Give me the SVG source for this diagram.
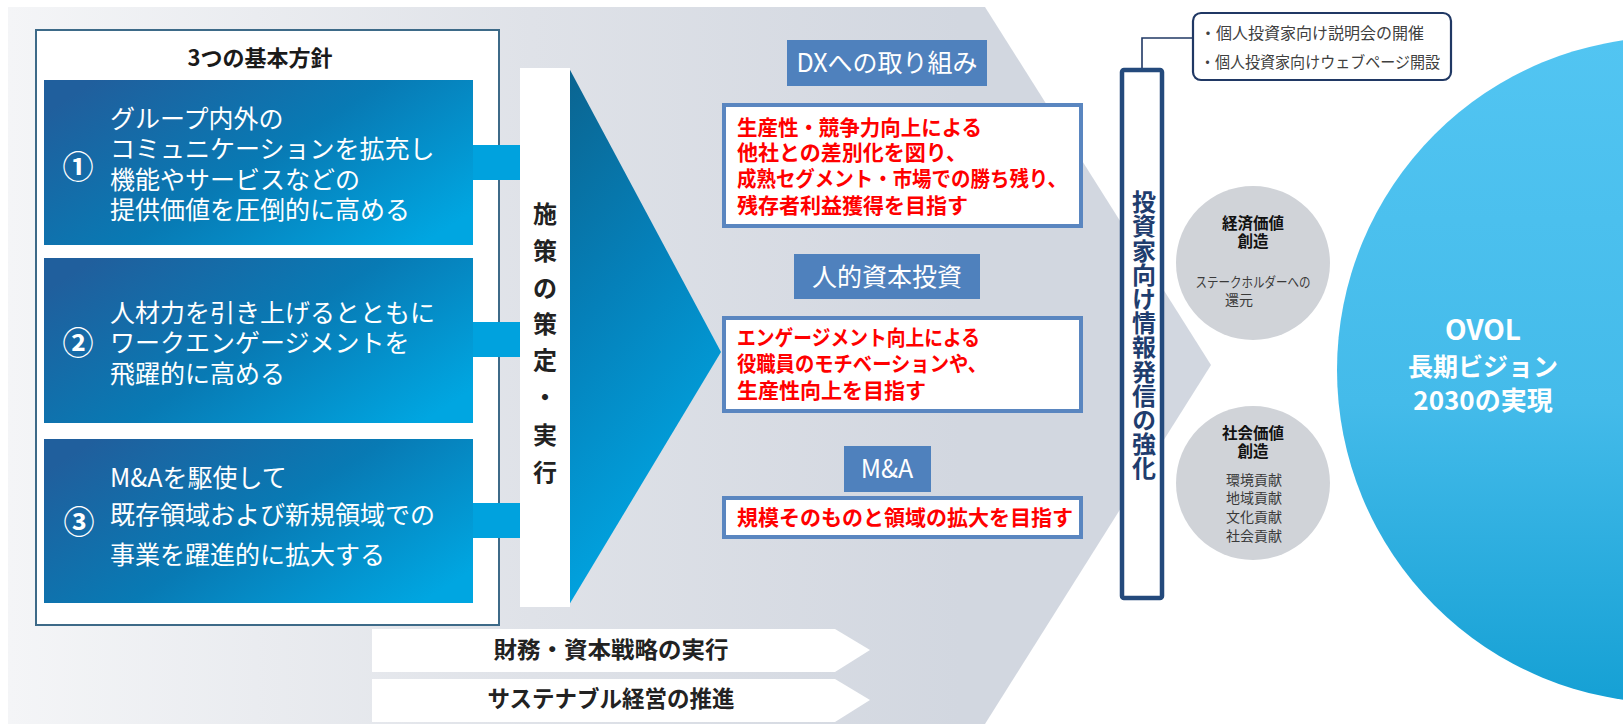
<svg xmlns="http://www.w3.org/2000/svg" width="1623" height="724" viewBox="0 0 1623 724">
<defs>
<linearGradient id="bgG" x1="8" y1="0" x2="960" y2="0" gradientUnits="userSpaceOnUse">
<stop offset="0" stop-color="#f4f5f7"/>
<stop offset="0.55" stop-color="#dfe2e8"/>
<stop offset="1" stop-color="#d2d7e0"/>
</linearGradient>
<linearGradient id="boxG" x1="0" y1="0.2" x2="1" y2="0.8">
<stop offset="0" stop-color="#205f9d"/>
<stop offset="0.5" stop-color="#087ab4"/>
<stop offset="1" stop-color="#00a6e1"/>
</linearGradient>
<linearGradient id="triG" x1="0" y1="0" x2="0.3" y2="1">
<stop offset="0" stop-color="#0b6490"/>
<stop offset="0.45" stop-color="#0580b9"/>
<stop offset="1" stop-color="#00a7e4"/>
</linearGradient>
<linearGradient id="bigG" x1="0" y1="0" x2="0" y2="1">
<stop offset="0" stop-color="#52c5f2"/>
<stop offset="0.55" stop-color="#44bbea"/>
<stop offset="1" stop-color="#15a0d4"/>
</linearGradient>
<style>
.jp{font-family:"Noto Sans CJK JP","Noto Sans",sans-serif}
.wt{fill:#ffffff;font-size:25px}
.num{fill:#ffffff;font-size:31px;font-weight:700}
.lbl{fill:#4f81bd}
.lbt{fill:#ffffff;font-size:25px;text-anchor:middle}
.rbox{fill:#ffffff;stroke:#5a86c0;stroke-width:4}
.red{fill:#ff0000;font-size:21px;font-weight:700}
.tab{fill:#00a2de}
.vt{font-size:24px;font-weight:700;text-anchor:middle}
.ct{font-size:14px;fill:#3a3a3a;text-anchor:middle}
.cb{font-size:15.5px;fill:#111111;font-weight:700;text-anchor:middle}
.bar{fill:#ffffff}
.bt{font-size:23px;font-weight:700;fill:#222222;text-anchor:middle}
.ov{fill:#ffffff;font-weight:700;text-anchor:middle}
</style>
</defs>
<rect x="0" y="0" width="1623" height="724" fill="#ffffff"/>
<polygon id="background" points="8,7 985,7 1211,365 985,724 8,724" fill="url(#bgG)"/>

<g id="big-circle">
<circle cx="1670" cy="370" r="333" fill="url(#bigG)"/>
<text class="jp ov" x="1483" y="340" font-size="28">OVOL</text>
<text class="jp ov" x="1483" y="376" font-size="25">長期ビジョン</text>
<text class="jp ov" x="1483" y="410" font-size="26">2030の実現</text>
</g>

<g id="policy-box">
<rect x="36" y="30" width="463" height="595" fill="#ffffff" stroke="#3d6a88" stroke-width="2"/>
<text class="jp" x="260" y="66" font-size="22" font-weight="700" fill="#1a1a1a" text-anchor="middle">3つの基本方針</text>
</g>

<g id="connectors">
<rect class="tab" x="472" y="145" width="48" height="35"/>
<rect class="tab" x="472" y="322" width="48" height="35"/>
<rect class="tab" x="472" y="503" width="48" height="35"/>
<path d="M1142,68 V38 H1193" fill="none" stroke="#203864" stroke-width="1.6"/>
</g>

<g id="policy-1">
<rect x="44" y="80" width="429" height="165" fill="url(#boxG)"/>
<text class="jp num" x="78" y="178" text-anchor="middle">①</text>
<text class="jp wt" x="110" y="128">グループ内外の</text>
<text class="jp wt" x="110" y="158">コミュニケーションを拡充し</text>
<text class="jp wt" x="110" y="189">機能やサービスなどの</text>
<text class="jp wt" x="110" y="219">提供価値を圧倒的に高める</text>
</g>

<g id="policy-2">
<rect x="44" y="258" width="429" height="165" fill="url(#boxG)"/>
<text class="jp num" x="78" y="354" text-anchor="middle">②</text>
<text class="jp wt" x="110" y="322">人材力を引き上げるとともに</text>
<text class="jp wt" x="110" y="352">ワークエンゲージメントを</text>
<text class="jp wt" x="110" y="383">飛躍的に高める</text>
</g>

<g id="policy-3">
<rect x="44" y="439" width="429" height="164" fill="url(#boxG)"/>
<text class="jp num" x="79" y="533" text-anchor="middle">③</text>
<text class="jp wt" x="110" y="487">M&amp;Aを駆使して</text>
<text class="jp wt" x="110" y="524">既存領域および新規領域での</text>
<text class="jp wt" x="110" y="564">事業を躍進的に拡大する</text>
</g>

<g id="execution">
<polygon points="569,68 721,352 569,605" fill="url(#triG)"/>
<rect x="520" y="68" width="50" height="539" fill="#ffffff"/>
<text class="jp vt" fill="#222222"><tspan x="545" y="223">施</tspan><tspan x="545" y="260">策</tspan><tspan x="545" y="297">の</tspan><tspan x="545" y="333">策</tspan><tspan x="545" y="369">定</tspan><tspan x="545" y="406">・</tspan><tspan x="545" y="444">実</tspan><tspan x="545" y="481">行</tspan></text>
</g>

<g id="dx">
<rect class="lbl" x="787" y="40" width="200" height="46"/>
<text class="jp lbt" x="887" y="72">DXへの取り組み</text>
<rect class="rbox" x="724" y="105" width="357" height="121"/>
<text class="jp red" x="737" y="135" textLength="245" lengthAdjust="spacingAndGlyphs">生産性・競争力向上による</text>
<text class="jp red" x="737" y="160">他社との差別化を図り、</text>
<text class="jp red" x="737" y="186" textLength="330" lengthAdjust="spacingAndGlyphs">成熟セグメント・市場での勝ち残り、</text>
<text class="jp red" x="737" y="213">残存者利益獲得を目指す</text>
</g>

<g id="human-capital">
<rect class="lbl" x="794" y="254" width="186" height="45"/>
<text class="jp lbt" x="887" y="286">人的資本投資</text>
<rect class="rbox" x="724" y="318" width="357" height="93"/>
<text class="jp red" x="737" y="345" textLength="243" lengthAdjust="spacingAndGlyphs">エンゲージメント向上による</text>
<text class="jp red" x="737" y="371" textLength="250" lengthAdjust="spacingAndGlyphs">役職員のモチベーションや、</text>
<text class="jp red" x="737" y="398">生産性向上を目指す</text>
</g>

<g id="ma">
<rect class="lbl" x="844" y="446" width="87" height="46"/>
<text class="jp lbt" x="887" y="478">M&amp;A</text>
<rect class="rbox" x="724" y="498" width="357" height="39"/>
<text class="jp red" x="737" y="525">規模そのものと領域の拡大を目指す</text>
</g>

<g id="finance-bar">
<polygon class="bar" points="372,629 835,629 870,650 835,672 372,672"/>
<text class="jp bt" x="611" y="658" textLength="235" lengthAdjust="spacingAndGlyphs">財務・資本戦略の実行</text>
</g>

<g id="sustainability-bar">
<polygon class="bar" points="372,679 835,679 870,700 835,722 372,722"/>
<text class="jp bt" x="611" y="707" textLength="247" lengthAdjust="spacingAndGlyphs">サステナブル経営の推進</text>
</g>

<g id="ir-column">
<rect x="1122" y="70" width="40" height="528" rx="2" fill="#ffffff" stroke="#244a7c" stroke-width="4.5"/>
<text class="jp" x="1144" y="190" font-size="24" font-weight="700" fill="#1f3d6e" style="writing-mode:vertical-rl;letter-spacing:0.2px">投資家向け情報発信の強化</text>
</g>

<g id="ir-callout">
<rect x="1193" y="13" width="258" height="67" rx="8" fill="#ffffff" stroke="#203864" stroke-width="2.2"/>
<text class="jp" x="1200" y="39" font-size="16" fill="#404040">・個人投資家向け説明会の開催</text>
<text class="jp" x="1200" y="68" font-size="16" fill="#404040" textLength="240" lengthAdjust="spacingAndGlyphs">・個人投資家向けウェブページ開設</text>
</g>

<g id="economic-value">
<circle cx="1253" cy="263" r="77" fill="#d0d3d8"/>
<text class="jp cb" x="1253" y="229">経済価値</text>
<text class="jp cb" x="1253" y="247">創造</text>
<text class="jp ct" x="1253" y="287" textLength="115" lengthAdjust="spacingAndGlyphs">ステークホルダーへの</text>
<text class="jp ct" x="1239" y="305">還元</text>
</g>

<g id="social-value">
<circle cx="1253" cy="483" r="77" fill="#d0d3d8"/>
<text class="jp cb" x="1253" y="439">社会価値</text>
<text class="jp cb" x="1253" y="457">創造</text>
<text class="jp ct" x="1254" y="485">環境貢献</text>
<text class="jp ct" x="1254" y="503">地域貢献</text>
<text class="jp ct" x="1254" y="522">文化貢献</text>
<text class="jp ct" x="1254" y="541">社会貢献</text>
</g>
</svg>
